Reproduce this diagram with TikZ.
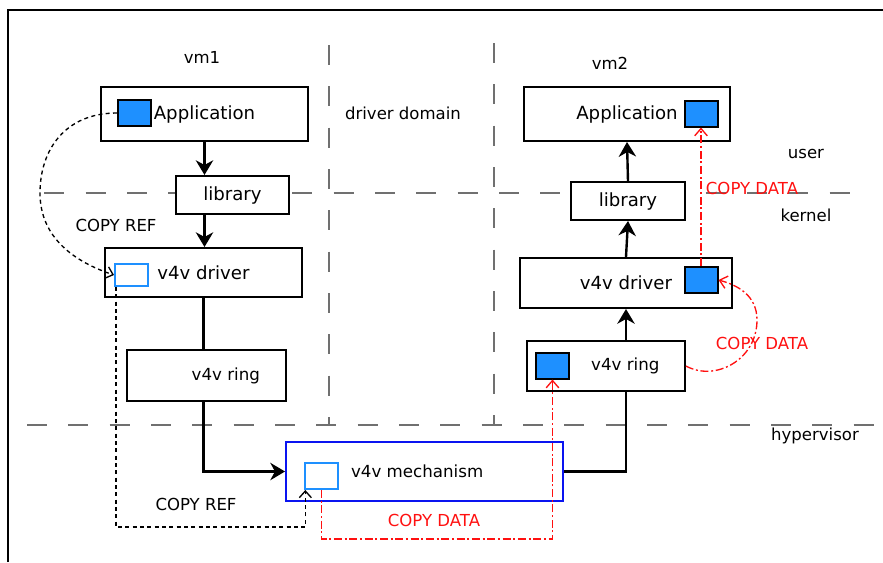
\documentclass[tikz,border=0pt]{standalone}
\usepackage{fontspec}
\setmainfont{DejaVu Sans}
\usetikzlibrary{arrows.meta}
\definecolor{sqblue}{HTML}{1E90FF}
\definecolor{mechblue}{HTML}{0A14F0}
\definecolor{sepgray}{HTML}{707070}
\definecolor{datared}{HTML}{FF1010}
\tikzset{
  box/.style={draw, line width=1.5pt, fill=white, inner sep=0pt,
              font=\fontsize{13.6}{16}\selectfont},
  smallbox/.style={box, font=\fontsize{12.5}{15}\selectfont},
  bluesq/.style={draw, line width=1.5pt, fill=sqblue, inner sep=0pt,
                 minimum width=24.75pt, minimum height=19.5pt},
  emptysq/.style={draw=sqblue, line width=1.5pt, fill=white, inner sep=0pt,
                  minimum width=24.75pt, minimum height=19.5pt},
  lbl/.style={font=\fontsize{12.4}{15}\selectfont, inner sep=0pt},
  redlbl/.style={lbl, text=datared},
  sepline/.style={draw=sepgray, line width=0.9pt, dash pattern=on 15pt off 16pt},
  flow/.style={line width=1.8pt, -{Stealth[length=11pt,width=13pt,inset=3.5pt]}},
  plainflow/.style={line width=1.8pt},
  refline/.style={line width=1pt, dash pattern=on 3pt off 2.5pt,
                  -{Straight Barb[length=5pt,width=9pt]}},
  dataline/.style={draw=datared, line width=1pt,
                   dash pattern=on 6pt off 2pt on 1.5pt off 2pt,
                   -{Straight Barb[length=5.5pt,width=9.5pt]}},
}
\begin{document}
\begin{tikzpicture}[x=0.75pt,y=-0.75pt]
\useasboundingbox (0,0) rectangle (883,562);

% outer frame (top and left edges)
\draw[line width=1.6pt] (8,562) -- (8,10) -- (883,10);

% domain separators
\draw[sepline] (329,45) -- (329,425);
\draw[sepline] (494,43) -- (494,425);
\draw[sepline, dash phase=24pt] (35,193) -- (852,193);
\draw[sepline] (27,425) -- (883,425);

% region labels
\node[lbl] (vm1) at (202,57) {vm1};
\node[lbl] (vm2) at (610,63) {vm2};
\node[lbl] (dd) at (403,113) {driver domain};
\node[lbl] (user) at (806,154) {user};
\node[lbl] (kernel) at (806,215) {kernel};
\node[lbl] (hyp) at (815,436) {hypervisor};

% vm1 stack
\node[box, minimum width=155.25pt, minimum height=40.5pt] (app1) at (204.5,114) {Application};
\node[box, minimum width=84.75pt, minimum height=28.5pt] (lib1) at (232.5,195) {library};
\node[box, minimum width=147.75pt, minimum height=36.75pt] (drv1) at (203.5,272.5) {v4v driver};
\node[smallbox, minimum width=119.25pt, minimum height=38.25pt] (ring1) at (206.5,375.5) {\hspace*{29pt}v4v ring};

% hypervisor
\node[smallbox, draw=mechblue, minimum width=207.75pt, minimum height=44.25pt] (mech) at (424.5,471.5) {v4v mechanism\hspace*{11pt}};

% vm2 stack
\node[box, minimum width=154.5pt, minimum height=40.5pt] (app2) at (627,114) {Application};
\node[box, minimum width=85.5pt, minimum height=28.5pt] (lib2) at (628,201) {library};
\node[box, minimum width=159pt, minimum height=37.5pt] (drv2) at (626,283) {v4v driver};
\node[smallbox, minimum width=118.5pt, minimum height=37.5pt] (ring2) at (606,366) {\hspace*{29pt}v4v ring};

% buffers
\node[bluesq] (sqA) at (134.5,113) {};
\node[emptysq, minimum height=16.5pt] (sqB) at (131.5,275) {};
\node[emptysq] (sqM) at (321.5,476) {};
\node[bluesq] (sqC) at (701,113.5) {};
\node[bluesq] (sqD) at (701,280) {};
\node[bluesq] (sqE) at (552.5,365.5) {};

% vm1 path down to the hypervisor
\draw[flow] (app1.south) -- (app1.south |- lib1.north);
\draw[flow] (app1.south |- lib1.south) -- (app1.south |- drv1.north);
\draw[plainflow] (drv1.south) -- (drv1.south |- ring1.north);
\draw[flow] (drv1.south |- ring1.south) |- (mech.west);

% hypervisor up to vm2
\draw[plainflow] (mech.east) -| (drv2.south |- ring2.south);
\draw[flow] (drv2.south |- ring2.north) -- (drv2.south);
\draw[flow] (drv2.north) -- (lib2.south);
\draw[flow] (lib2.north) -- (app2.south);

% reference copies
\coordinate (refbend) at (40,193);
\coordinate (refbot) at (0,527);
\draw[refline] (sqA.west) .. controls (65,113) and (40,150) .. (refbend)
  .. controls (40,238) and (75,262) .. (sqB.west);
\draw[refline] ([xshift=1.5pt]sqB.south west) -- ([xshift=1.5pt]sqB.south west |- refbot)
  -| ([xshift=1pt]sqM.south west);
\node[lbl] (cr1) at (116,225) {COPY REF};
\node[lbl] (cr2) at (196,504) {COPY REF};

% data copies
\coordinate (databot) at (0,539);
\coordinate (loopright) at (757,320);
\draw[dataline] (sqM.south) -- (sqM.south |- databot) -| (sqE.south);
\draw[dataline] (ring2.east) .. controls (715,382) and (757,360) .. (loopright)
  .. controls (757,295) and (737,285) .. (sqD.east);
\draw[dataline] (sqD.north) -- (sqC.south);
\node[redlbl] (cd1) at (434,520) {COPY DATA};
\node[redlbl] (cd2) at (762,343) {COPY DATA};
\node[redlbl] (cd3) at (752,188) {COPY DATA};
\end{tikzpicture}
\end{document}
